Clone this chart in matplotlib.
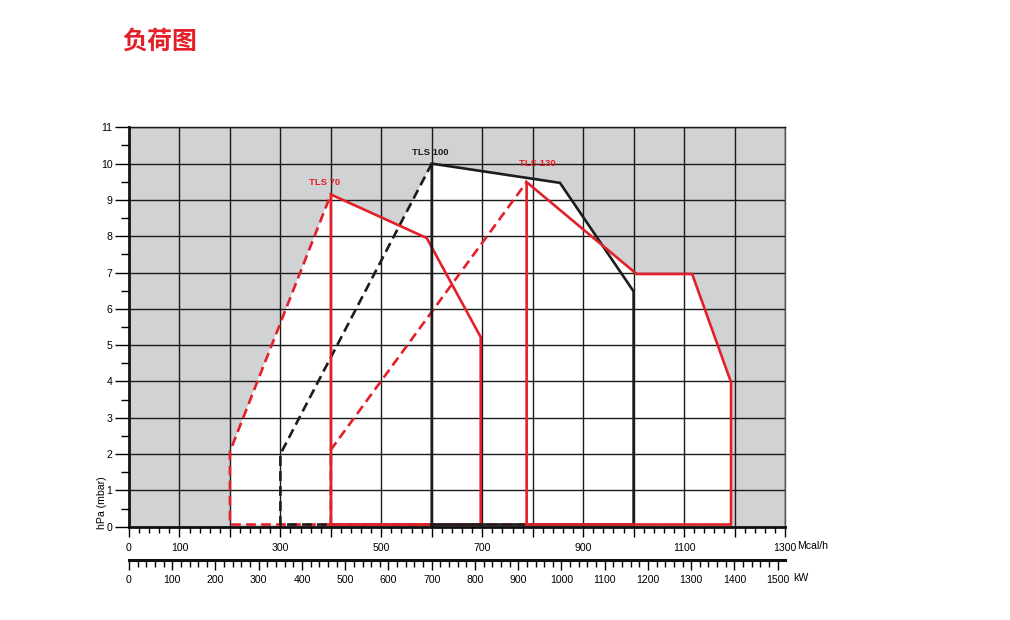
import matplotlib
matplotlib.use("Agg")
import matplotlib.pyplot as plt
from matplotlib.ticker import MultipleLocator, FixedLocator, FixedFormatter

plt.rcParams['font.family'] = ['Liberation Sans', 'DejaVu Sans']
plt.rcParams['lines.scale_dashes'] = False

RED = '#e3202a'
BLACK = '#1c1c1c'
GRAY = '#d1d2d4'

# ---- data (Mcal/h, hPa) ----
names = ['TLS 70', 'TLS 100', 'TLS 130']
colors = [RED, BLACK, RED]

# start-up (dashed) paths
tls70_start_x = [400, 200, 200, 400]
tls70_start_y = [0.06, 0.06, 2.07, 9.15]
tls100_start_x = [600, 300, 300, 600]
tls100_start_y = [0.06, 0.06, 2.0, 10.0]
tls130_start_x = [788, 400, 400, 788]
tls130_start_y = [0.06, 0.06, 2.12, 9.49]

# working (solid) paths
tls70_work_x = [400, 400, 590, 697, 697, 400]
tls70_work_y = [0.06, 9.15, 7.95, 5.22, 0.06, 0.06]
tls100_work_x = [600, 600, 854, 1000, 1000, 600]
tls100_work_y = [0.06, 10.0, 9.47, 6.48, 0.06, 0.06]
tls130_work_x = [788, 788, 1006, 1116, 1193, 1193, 788]
tls130_work_y = [0.06, 9.49, 6.96, 6.96, 3.98, 0.06, 0.06]

# label positions
label_x = [388, 597, 810]
label_y = [9.49, 10.30, 9.99]

mcal_ticks = [0, 100, 200, 300, 400, 500, 600, 700, 800, 900, 1000, 1100, 1200, 1300]
mcal_labels = ['0', '100', '', '300', '', '500', '', '700', '', '900', '', '1100', '', '1300']
kw_ticks = [0, 100, 200, 300, 400, 500, 600, 700, 800, 900, 1000, 1100, 1200, 1300, 1400, 1500]
kw_labels = [str(v) for v in kw_ticks]
y_ticks = list(range(0, 12))
MCAL_PER_KW = 0.857

starts = [(tls70_start_x, tls70_start_y), (tls100_start_x, tls100_start_y), (tls130_start_x, tls130_start_y)]
works = [(tls70_work_x, tls70_work_y), (tls100_work_x, tls100_work_y), (tls130_work_x, tls130_work_y)]

fig = plt.figure(figsize=(10.1, 6.2), dpi=100)
ax = fig.add_axes([129 / 1010, 93.3 / 620, 656 / 1010, 399.4 / 620])
ax.set_xlim(0, 1300)
ax.set_ylim(0, 11)
ax.set_facecolor(GRAY)

# white envelope
for (sx, sy), (wx, wy) in zip(starts, works):
    ax.fill(sx, sy, color='white', lw=0, zorder=1)
    ax.fill(wx, wy, color='white', lw=0, zorder=1)

# grid
ax.xaxis.set_major_locator(FixedLocator(mcal_ticks))
ax.xaxis.set_major_formatter(FixedFormatter(mcal_labels))
ax.xaxis.set_minor_locator(MultipleLocator(20))
ax.yaxis.set_major_locator(FixedLocator(y_ticks))
ax.yaxis.set_minor_locator(MultipleLocator(0.5))
ax.set_axisbelow(False)
ax.grid(which='major', color='#1a1a1a', lw=1.0, zorder=2)

# dashed start lines
for (sx, sy), c in zip(starts, colors):
    ax.plot(sx, sy, color=c, lw=1.9, dashes=(7.0, 3.8), zorder=3, solid_capstyle='butt')
# solid working lines
for (wx, wy), c in zip(works, colors):
    ax.plot(wx, wy, color=c, lw=1.9, zorder=4, solid_joinstyle='miter')

for n, x, y, c in zip(names, label_x, label_y, colors):
    ax.text(x, y, n, color=c, fontsize=6.8, fontweight='bold', ha='center', va='center', zorder=5)

# spines
for s in ['left', 'bottom']:
    ax.spines[s].set_linewidth(2.0)
    ax.spines[s].set_color('#111111')
ax.spines['top'].set_linewidth(1.0)
ax.spines['right'].set_linewidth(1.0)
ax.spines['right'].set_color('#555555')

FS = 7.6
ax.tick_params(axis='y', which='major', length=10, width=1.0, labelsize=FS, pad=2, direction='out')
ax.tick_params(axis='y', which='minor', length=6, width=1.0, direction='out')
ax.tick_params(axis='x', which='major', length=7, width=1.0, labelsize=FS, pad=5, direction='out')
ax.tick_params(axis='x', which='minor', length=4, width=1.0, direction='out')

ax.text(1.018, -0.048, 'Mcal/h', transform=ax.transAxes, fontsize=FS, ha='left', va='center')

# kW axis
sec = ax.secondary_xaxis(-0.0825, functions=(lambda m: m / MCAL_PER_KW, lambda k: k * MCAL_PER_KW))
sec.xaxis.set_major_locator(FixedLocator(kw_ticks))
sec.xaxis.set_major_formatter(FixedFormatter(kw_labels))
sec.xaxis.set_minor_locator(MultipleLocator(20))
sec.spines['bottom'].set_linewidth(2.2)
sec.spines['bottom'].set_color('#111111')
sec.tick_params(which='major', length=7, width=1.0, labelsize=FS, pad=4, direction='out')
sec.tick_params(which='minor', length=5, width=1.0, direction='out')
ax.text(1.012, -0.128, 'kW', transform=ax.transAxes, fontsize=FS, ha='left', va='center')

fig.text(102 / 1010, 1 - 503 / 620, 'hPa (mbar)', rotation=90, fontsize=7.6, ha='center', va='center')

fig.text(160 / 1010, 1 - 42 / 620, '负荷图', color=RED, fontsize=18, fontweight='bold',
         family=['Noto Sans CJK SC', 'DejaVu Sans'], ha='center', va='center')

fig.savefig('out.png', dpi=100)
